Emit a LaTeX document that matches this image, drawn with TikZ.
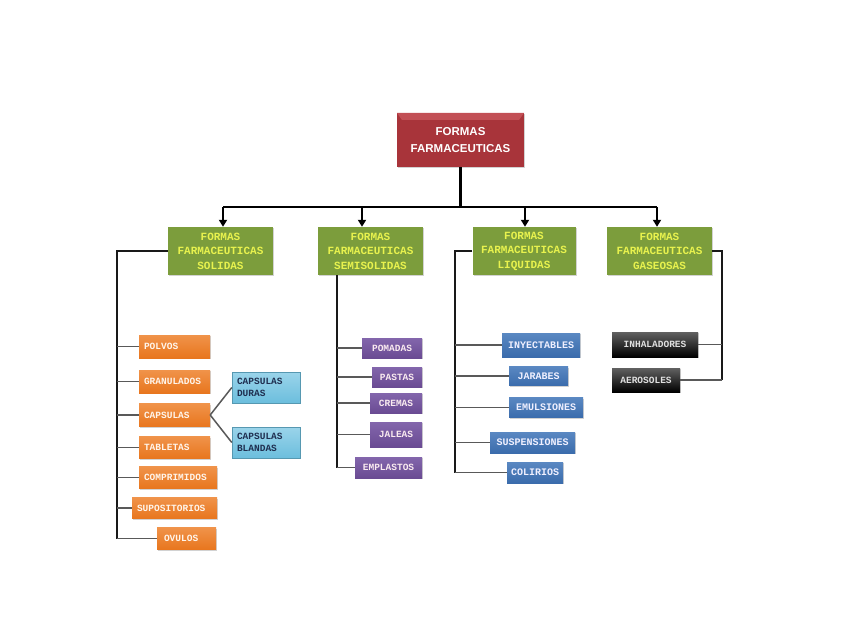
\documentclass[tikz,border=0pt]{standalone}
\usepackage{fontspec}
\newfontfamily\monob{Liberation Mono}
\newfontfamily\sansb{Liberation Sans}
\usetikzlibrary{shadows,arrows.meta}
\definecolor{cred}{HTML}{A8343A}
\definecolor{credl}{HTML}{C24F55}
\definecolor{cgreen}{HTML}{7C9D3C}
\definecolor{cyell}{HTML}{E8F24E}
\definecolor{corange}{HTML}{E8761E}
\definecolor{corangel}{HTML}{F0934A}
\definecolor{clblue}{HTML}{6CBEDD}
\definecolor{clbluel}{HTML}{9AD4EA}
\definecolor{cnavy}{HTML}{1F2F50}
\definecolor{cpurple}{HTML}{6A4B93}
\definecolor{cpurplel}{HTML}{8366AC}
\definecolor{cblue}{HTML}{3B6CAC}
\definecolor{cbluel}{HTML}{5A88C2}
\tikzset{
  bx/.style={rectangle, inner xsep=5pt, inner ysep=0pt,
    drop shadow={opacity=0.35, shadow xshift=1.3pt, shadow yshift=-1.3pt}},
  wh/.style 2 args={text width=#1, minimum height=#2},
  topbox/.style={bx, fill=cred, text=white, align=center,
    font=\fontsize{11.5}{17}\sansb\bfseries,
    path picture={
      \fill[credl] (path picture bounding box.north west) -- (path picture bounding box.north east)
        -- ([xshift=-5pt,yshift=-7pt]path picture bounding box.north east)
        -- ([xshift=5pt,yshift=-7pt]path picture bounding box.north west) -- cycle;}},
  greenbox/.style={bx, fill=cgreen, text=cyell, align=center,
    font=\fontsize{11}{14.5}\monob\bfseries},
  obox/.style={bx, top color=corangel, bottom color=corange, text=white!92!orange, align=left,
    font=\fontsize{9.5}{11}\monob\bfseries},
  lbbox/.style={bx, top color=clbluel, bottom color=clblue, draw=clblue!80!black, line width=0.4pt,
    text=cnavy, align=left, font=\fontsize{9.5}{12}\monob\bfseries},
  pbox/.style={bx, top color=cpurplel, bottom color=cpurple, text=white!92!purple, align=center,
    font=\fontsize{9.5}{11}\monob\bfseries},
  bbox/.style={bx, inner xsep=3pt, top color=cbluel, bottom color=cblue, text=white!94!blue, align=center,
    font=\fontsize{10}{12}\monob\bfseries},
  kbox/.style={bx, top color=black!62, bottom color=black, text=black!12, align=center,
    font=\fontsize{9.5}{11}\monob\bfseries},
  mainline/.style={draw=black, line width=2.4pt},
  busline/.style={draw=black!90, line width=2pt},
  branch/.style={draw=black!65, line width=1.5pt},
  arr/.style={mainline, -{Triangle[length=7pt,width=8pt]}}
}
\begin{document}
\begin{tikzpicture}[x=1pt,y=-1pt]
\useasboundingbox[fill=white] (0,0) rectangle (848,636);

% top
\node[topbox, wh={117pt}{54pt}] (top) at (460.5,140) {FORMAS\\FARMACEUTICAS};

% second level
\node[greenbox, wh={95pt}{48pt}] (sol)  at (220.5,251) {FORMAS\\FARMACEUTICAS\\SOLIDAS};
\node[greenbox, wh={95pt}{48pt}] (semi) at (370.5,251) {FORMAS\\FARMACEUTICAS\\SEMISOLIDAS};
\node[greenbox, wh={93pt}{48pt}] (liq)  at (524,251)   {FORMAS\\FARMACEUTICAS\\LIQUIDAS};
\node[greenbox, wh={95pt}{48pt}] (gas)  at (659.5,251) {FORMAS\\FARMACEUTICAS\\GASEOSAS};

% solids
\node[obox, wh={61pt}{23pt}] (polvos)      at (174.5,346.5) {POLVOS};
\node[obox, wh={61pt}{23pt}] (granulados)  at (174.5,381.5) {GRANULADOS};
\node[obox, wh={61pt}{23pt}] (capsulas)    at (174.5,415)   {CAPSULAS};
\node[obox, wh={61pt}{22pt}] (tabletas)    at (174.5,447.5) {TABLETAS};
\node[obox, wh={68pt}{22pt}] (comprimidos) at (178,477.5)   {COMPRIMIDOS};
\node[obox, wh={75pt}{21pt}] (supositorios) at (174.5,508)  {SUPOSITORIOS};
\node[obox, wh={49pt}{22pt}] (ovulos)      at (186.5,538.5) {\hspace*{2pt}OVULOS};
\node[lbbox, wh={58pt}{31pt}] (duras)   at (266,387.5) {CAPSULAS\\DURAS};
\node[lbbox, wh={58pt}{31pt}] (blandas) at (266,442.5) {CAPSULAS\\BLANDAS};

% semisolids
\node[pbox, wh={50pt}{20pt}] (pomadas)   at (392,348)   {POMADAS};
\node[pbox, wh={40pt}{20pt}] (pastas)    at (397,377)   {PASTAS};
\node[pbox, wh={42pt}{20pt}] (cremas)    at (396,403)   {CREMAS};
\node[pbox, wh={42pt}{25pt}] (jaleas)    at (396,434.5) {JALEAS};
\node[pbox, wh={57pt}{21pt}] (emplastos) at (388.5,467.5) {EMPLASTOS};

% liquids
\node[bbox, wh={72pt}{24pt}] (inyectables)  at (541,345)   {INYECTABLES};
\node[bbox, wh={53pt}{19pt}] (jarabes)      at (538.5,376) {JARABES};
\node[bbox, wh={68pt}{20pt}] (emulsiones)   at (546,407.5) {EMULSIONES};
\node[bbox, wh={79pt}{21pt}] (suspensiones) at (532.5,442.5) {SUSPENSIONES};
\node[bbox, wh={50pt}{21pt}] (colirios)     at (535,472.5) {COLIRIOS};

% gases
\node[kbox, wh={76pt}{25pt}] (inhaladores) at (655,344.5) {INHALADORES};
\node[kbox, wh={58pt}{24pt}] (aerosoles)   at (646,380)   {AEROSOLES};

% top connectors
\coordinate (hub) at (460.5,207);
\coordinate (aSol) at (223,207);
\coordinate (aSemi) at (362,207);
\coordinate (aLiq) at (525,207);
\coordinate (aGas) at (657,207);
\draw[mainline] (top.south) -- (hub);
\draw[mainline] (aSol) -- (aGas);
\draw[arr] (aSol) -- (aSol |- sol.north);
\draw[arr] (aSemi) -- (aSemi |- semi.north);
\draw[arr] (aLiq) -- (aLiq |- liq.north);
\draw[arr] (aGas) -- (aGas |- gas.north);

% solids bus
\coordinate (solB) at (117,0);
\draw[busline] (sol.west) -| (solB |- ovulos.west);
\foreach \n in {polvos,granulados,capsulas,tabletas,comprimidos,supositorios,ovulos}
  \draw[branch] (solB |- \n.west) -- (\n.west);
\draw[branch] (capsulas.east) -- (duras.west);
\draw[branch] (capsulas.east) -- (blandas.west);

% semisolids bus
\coordinate (semB) at (337,0);
\draw[busline] (semB |- semi.south) -- (semB |- emplastos.west);
\foreach \n in {pomadas,pastas,cremas,jaleas,emplastos}
  \draw[branch] (semB |- \n.west) -- (\n.west);

% liquids bus
\coordinate (liqB) at (455,0);
\draw[busline] (liq.west) -| (liqB |- colirios.west);
\foreach \n in {inyectables,jarabes,emulsiones,suspensiones,colirios}
  \draw[branch] (liqB |- \n.west) -- (\n.west);

% gases bus
\coordinate (gasB) at (722,0);
\draw[busline] (gas.east) -| (gasB |- aerosoles.east);
\foreach \n in {inhaladores,aerosoles}
  \draw[branch] (gasB |- \n.east) -- (\n.east);
\end{tikzpicture}
\end{document}
